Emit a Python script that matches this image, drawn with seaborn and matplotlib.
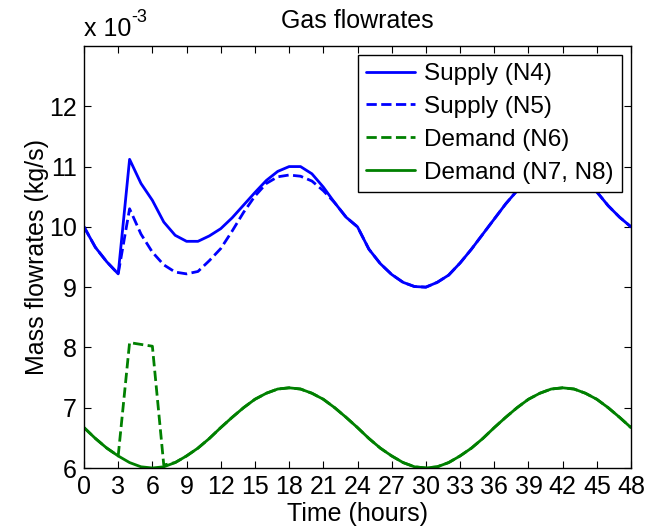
import matplotlib
matplotlib.use("Agg")
import matplotlib.pyplot as plt
import pandas as pd
import seaborn as sns

hours = list(range(49))

supply_n4 = [10.00, 9.66, 9.42, 9.22, 11.12, 10.72, 10.44, 10.08, 9.86, 9.76,
             9.76, 9.85, 9.97, 10.15, 10.36, 10.57, 10.77, 10.92, 11.00, 11.00,
             10.88, 10.66, 10.40, 10.16, 10.00, 9.63, 9.39, 9.21, 9.08, 9.01,
             9.00, 9.08, 9.20, 9.40, 9.63, 9.88, 10.13, 10.38, 10.60, 10.78,
             10.91, 10.98, 11.00, 10.95, 10.80, 10.58, 10.35, 10.16, 10.00]

supply_n5 = [10.00, 9.66, 9.42, 9.22, 10.30, 9.88, 9.58, 9.37, 9.25, 9.22,
             9.26, 9.44, 9.64, 9.93, 10.24, 10.51, 10.72, 10.83, 10.86, 10.84,
             10.76, 10.60, 10.40, 10.16, 10.00, 9.63, 9.39, 9.21, 9.08, 9.01,
             9.00, 9.08, 9.20, 9.40, 9.63, 9.88, 10.13, 10.38, 10.60, 10.78,
             10.91, 10.98, 11.00, 10.95, 10.80, 10.58, 10.35, 10.16, 10.00]

demand_n6 = [6.67, 6.49, 6.33, 6.20, 8.08, 8.05, 8.02, 6.05, 6.09, 6.20,
             6.33, 6.49, 6.67, 6.84, 7.00, 7.14, 7.24, 7.31, 7.33, 7.31,
             7.24, 7.14, 7.00, 6.84, 6.67, 6.49, 6.33, 6.20, 6.09, 6.02,
             6.00, 6.02, 6.09, 6.20, 6.33, 6.49, 6.67, 6.84, 7.00, 7.14,
             7.24, 7.31, 7.33, 7.31, 7.24, 7.14, 7.00, 6.84, 6.67]

demand_n78 = [6.67, 6.49, 6.33, 6.20, 6.09, 6.02, 6.00, 6.02, 6.09, 6.20,
              6.33, 6.49, 6.67, 6.84, 7.00, 7.14, 7.24, 7.31, 7.33, 7.31,
              7.24, 7.14, 7.00, 6.84, 6.67, 6.49, 6.33, 6.20, 6.09, 6.02,
              6.00, 6.02, 6.09, 6.20, 6.33, 6.49, 6.67, 6.84, 7.00, 7.14,
              7.24, 7.31, 7.33, 7.31, 7.24, 7.14, 7.00, 6.84, 6.67]

labels = ["Supply (N4)", "Supply (N5)", "Demand (N6)", "Demand (N7, N8)"]
x_ticks = list(range(0, 49, 3))
y_ticks = [6, 7, 8, 9, 10, 11, 12]

sns.set_style("ticks")
plt.rcParams['font.family'] = ['Liberation Sans', 'DejaVu Sans']
plt.rcParams['text.color'] = 'black'
plt.rcParams['axes.labelcolor'] = 'black'
plt.rcParams['xtick.color'] = 'black'
plt.rcParams['ytick.color'] = 'black'

fig = plt.figure(figsize=(6.49, 5.30), dpi=100)
ax = fig.add_axes([84/649, 62/530, (631-84)/649, (468-46)/530])

series = [supply_n4, supply_n5, demand_n6, demand_n78]
colors = ["#0000ff", "#0000ff", "#008000", "#008000"]
styles = ["-", "--", "--", "-"]
for vals, lab, col, ls in zip(series, labels, colors, styles):
    df = pd.DataFrame({"t": hours, "v": vals})
    kw = dict(dashes=(2.6, 1.3)) if ls == "--" else {}
    sns.lineplot(data=df, x="t", y="v", ax=ax, color=col, linestyle=ls,
                 linewidth=2.0, label=lab, **kw)

ax.set_xlim(0, 48)
ax.set_ylim(6, 13)
ax.set_xticks(x_ticks)
ax.set_yticks(y_ticks)
ax.set_xticklabels([str(t) for t in x_ticks])
ax.set_yticklabels([str(t) for t in y_ticks])
ax.tick_params(direction='in', top=True, right=True, length=5, width=0.8,
               labelsize=18, colors='black', labelcolor='black', pad=5)
for s in ax.spines.values():
    s.set_visible(True)
    s.set_color('black')
    s.set_linewidth(1.0)

ax.set_xlabel("Time (hours)", fontsize=18, labelpad=2, color='black')
ax.set_ylabel("Mass flowrates (kg/s)", fontsize=18, labelpad=0, color='black')
ax.set_title("Gas flowrates", fontsize=18, pad=13, color='black')
t1 = ax.text(0.0, 1.012, "x 10", transform=ax.transAxes,
             fontsize=18, ha='left', va='bottom', color='black')
ax.annotate("-3", xy=(1.0, 0.62), xycoords=t1, fontsize=13,
            ha='left', va='bottom', color='black')

leg = ax.legend(loc='upper right', fontsize=17.5, frameon=True, fancybox=False,
                framealpha=1, edgecolor='black', handlelength=2.0,
                handletextpad=0.4, labelspacing=0.45, borderpad=0.35,
                borderaxespad=0.35)
leg.get_frame().set_linewidth(1.0)
for txt in leg.get_texts():
    txt.set_color('black')

fig.savefig("out.png", dpi=100)
